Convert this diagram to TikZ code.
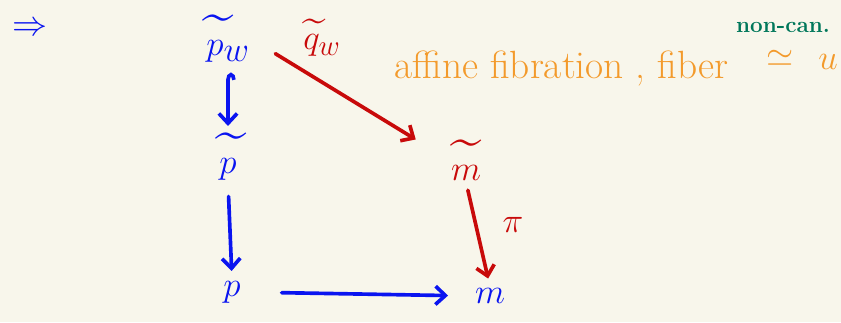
\documentclass[tikz,border=0pt]{standalone}
\usepackage{amsmath,amssymb}
\usetikzlibrary{arrows.meta}
\definecolor{paper}{HTML}{F8F6EB}
\definecolor{inkblue}{HTML}{0A14F0}
\definecolor{inkred}{HTML}{C80A0A}
\definecolor{inkorange}{HTML}{F39A2B}
\definecolor{inkgreen}{HTML}{00775A}
\begin{document}
\begin{tikzpicture}[x=0.025cm,y=-0.025cm,
    obj/.style={font=\fontsize{40}{44}\selectfont,inner sep=1pt},
    map/.style={line width=2.6pt,line cap=round,
      -{Straight Barb[length=7pt,width=13pt,line width=2.6pt]}},
    note/.style={text=inkorange,font=\fontsize{28}{32}\selectfont,inner sep=1pt}]
  \fill[paper] (0,0) rectangle (841,322);
  \node[obj,text=inkblue,font=\fontsize{36}{40}\selectfont] (imp) at (30,29) {$\Rightarrow$};
  % the diagram
  \node[obj,text=inkblue] (Pw) at (228,39) {$\widetilde{p}_w$};
  \node[obj,text=inkblue] (Pt) at (228,157) {$\widetilde{p}$};
  \node[obj,text=inkblue] (P) at (232,292) {$p$};
  \node[obj,text=inkred] (Mt) at (466,160) {$\widetilde{m}$};
  \node[obj,text=inkblue] (M) at (490,296) {$m$};
  \draw[map,inkblue,shorten <=6pt,shorten >=4pt,
    {Hooks[right,length=5pt,width=11pt]}-{Straight Barb[length=7pt,width=13pt,line width=2.6pt]}]
    (Pw.south) -- (Pt.north);
  \draw[map,inkblue,shorten <=10pt,shorten >=6pt] (Pt.south) -- (P.north);
  \draw[map,inkblue,shorten <=28pt,shorten >=18pt] (P.east) -- (M.west);
  \draw[map,inkred,shorten <=20pt,shorten >=28pt] (Pw.east) -- (Mt.west);
  \draw[map,inkred,shorten <=6pt,shorten >=6pt] (Mt.south) -- (M.north);
  \node[obj,text=inkred,font=\fontsize{30}{34}\selectfont] (q) at (322,38) {$\widetilde{q}_w$};
  \node[obj,text=inkred,font=\fontsize{24}{28}\selectfont] (pi) at (513,225) {$\pi$};
  % fibration note
  \node[note,anchor=west] (fib) at (393,68) {affine fibration , fiber};
  \node[note] (iso) at (780,58) {$\simeq$};
  \node[note] (u) at (828,62) {$u$};
  \node[text=inkgreen,font=\fontsize{16}{18}\selectfont\bfseries] (nc) at (783,27) {non-can.};
\end{tikzpicture}
\end{document}
